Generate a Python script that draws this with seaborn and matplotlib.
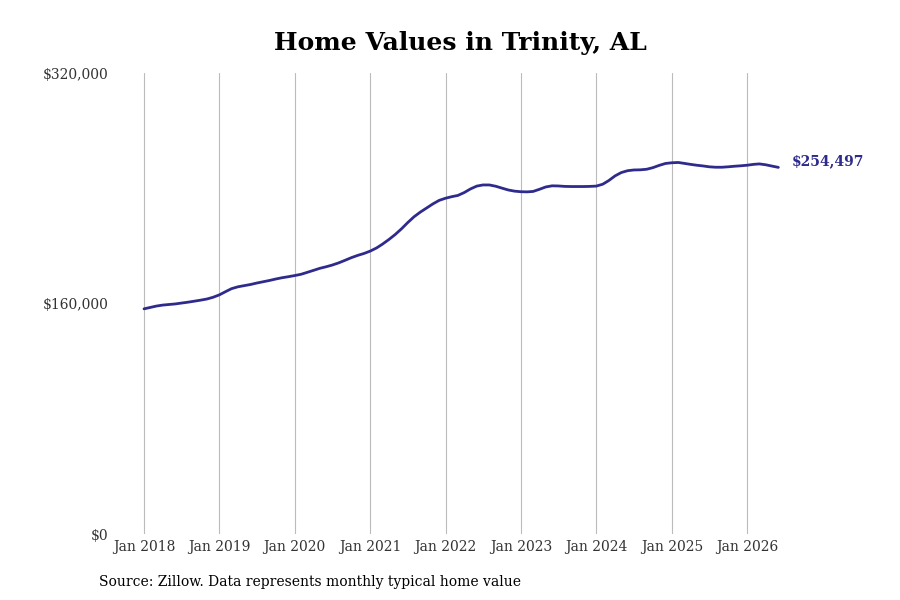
import numpy as np
import pandas as pd
import matplotlib
matplotlib.use("Agg")
import matplotlib.pyplot as plt
import seaborn as sns

# ---- data (monthly typical home value, thousands of $) ----
start_month = "2018-01-01"
values_k = [
    # 2018
    156.3, 157.3, 158.2, 158.9, 159.3, 159.7, 160.3, 160.9, 161.6, 162.3, 163.1, 164.3,
    # 2019
    166.0, 168.3, 170.3, 171.6, 172.4, 173.2, 174.2, 175.1, 176.0, 177.0, 177.9, 178.6,
    # 2020
    179.4, 180.3, 181.6, 183.0, 184.4, 185.5, 186.7, 188.2, 190.0, 191.8, 193.4, 194.7,
    # 2021
    196.4, 198.6, 201.2, 204.4, 207.8, 211.8, 216.1, 220.2, 223.5, 226.3, 229.2, 231.6,
    # 2022
    233.1, 234.2, 235.0, 237.0, 239.5, 241.5, 242.3, 242.3, 241.4, 240.1, 238.8, 238.0,
    # 2023
    237.6, 237.5, 237.8, 239.3, 240.9, 241.7, 241.6, 241.3, 241.2, 241.2, 241.2, 241.3,
    # 2024
    241.5, 242.8, 245.3, 248.6, 250.9, 252.2, 252.7, 252.8, 253.2, 254.3, 255.9, 257.2,
    # 2025
    257.7, 257.9, 257.3, 256.6, 256.0, 255.5, 254.9, 254.6, 254.6, 254.9, 255.3, 255.6,
    # 2026
    256.0, 256.6, 256.9, 256.3, 255.4, 254.497,
]
y_ticks = [0, 160000, 320000]
y_tick_labels = ["$0", "$160,000", "$320,000"]
x_tick_years = list(range(2018, 2027))
end_label = "$254,497"
title = "Home Values in Trinity, AL"
source = "Source: Zillow. Data represents monthly typical home value"

dates = pd.date_range(start_month, periods=len(values_k), freq="MS")
df = pd.DataFrame({"date": dates, "value": np.array(values_k) * 1000})

# ---- style ----
sns.set_theme(style="white")
plt.rcParams["font.family"] = ["DejaVu Serif"]

line_color = "#2e2b8c"

fig = plt.figure(figsize=(9, 6), dpi=100)
ax = fig.add_axes([0.125, 0.11, 0.753, 0.7683])

sns.lineplot(data=df, x="date", y="value", ax=ax, color=line_color, linewidth=2.0)

# axes limits
px_per_day = 603 / (pd.Timestamp("2026-01-01") - pd.Timestamp("2018-01-01")).days
left = pd.Timestamp("2018-01-01") - pd.Timedelta(days=(144 - 112.5) / px_per_day)
right = pd.Timestamp("2026-01-01") + pd.Timedelta(days=(790 - 747) / px_per_day)
ax.set_xlim(left, right)
ax.set_ylim(0, 320000)

ax.set_xticks([pd.Timestamp(f"{y}-01-01") for y in x_tick_years])
ax.set_xticklabels([f"Jan {y}" for y in x_tick_years])
ax.set_yticks(y_ticks)
ax.set_yticklabels(y_tick_labels)

ax.tick_params(axis="both", labelsize=10, colors="#333333", length=0)
ax.tick_params(axis="y", pad=3)
ax.tick_params(axis="x", pad=4)
ax.grid(axis="x", color="#bbbbbb", linewidth=0.8)
ax.grid(axis="y", visible=False)
for s in ax.spines.values():
    s.set_visible(False)
ax.set_xlabel("")
ax.set_ylabel("")

# end label
ax.annotate(end_label, xy=(df["date"].iloc[-1], df["value"].iloc[-1]),
            xytext=(10, 4.5), textcoords="offset points",
            ha="left", va="center", fontsize=10, fontweight="bold",
            color=line_color)

fig.text(0.512, 0.928, title, ha="center", va="center",
         fontsize=18, fontweight="bold", color="black")
fig.text(0.11, 0.03, source, ha="left", va="center", fontsize=10, color="black")

fig.savefig("out.png", dpi=100)
